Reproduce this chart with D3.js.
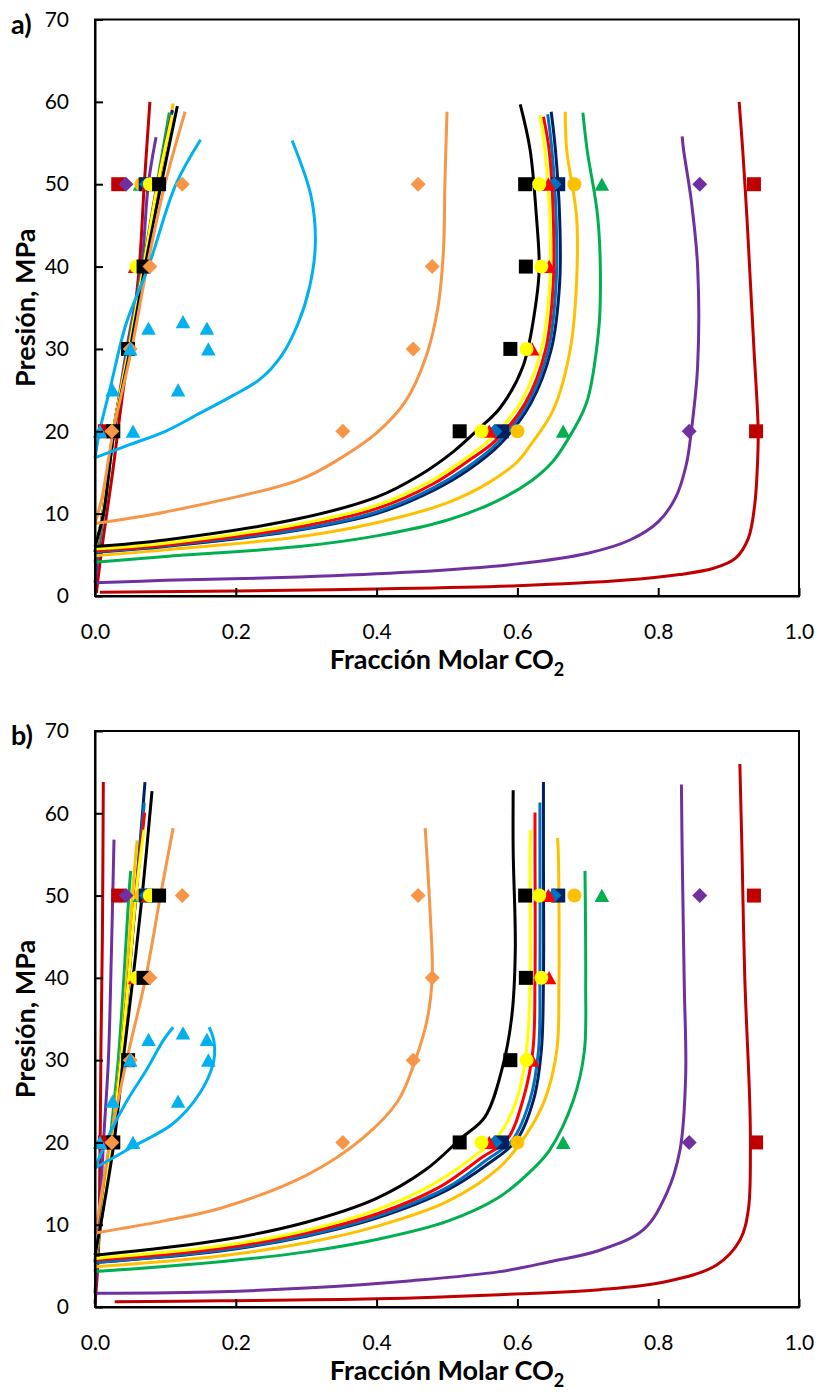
<!DOCTYPE html>
<html>
<head>
<meta charset="utf-8">
<script src="https://cdn.jsdelivr.net/npm/d3@7"></script>
<style>
  body { margin: 0; background: #fff; }
  text { font-family: Lato, "Open Sans", sans-serif; fill: #000; }
</style>
</head>
<body>
<script>
// ---- data: [fraccion molar CO2, presion MPa] ----
// each curve = [left branch, bottom/right branch]

// panel a
const a_darkred = [
  [[0.002,0.4],[0.01,6],[0.025,15],[0.04,25],[0.054,33],[0.063,40],[0.070,50],[0.078,60]],
  [[0.007,0.45],[0.2,0.6],[0.4,0.85],[0.6,1.25],[0.75,1.9],[0.83,2.6],[0.88,3.4],[0.91,4.6],[0.928,7],[0.937,11],[0.941,16],[0.942,20.2],[0.936,30],[0.931,38],[0.926,46],[0.920,54.2],[0.915,60]]
];
const a_purple = [
  [[0,1.6],[0.012,10],[0.027,20],[0.045,30],[0.066,40],[0.0757,50],[0.0867,55.7]],
  [[0,1.6],[0.1,1.9],[0.29,2.3],[0.45,2.9],[0.6,3.9],[0.7,5.2],[0.76,6.8],[0.8,9],[0.825,12],[0.84,16],[0.847,20],[0.856,27.9],[0.856,40],[0.847,48],[0.836,54.2],[0.834,55.8]]
];
const a_green = [
  [[0,4.1],[0.012,10],[0.027,20],[0.047,30],[0.068,40],[0.088,50],[0.1056,58.7]],
  [[0,4.1],[0.1,4.8],[0.29,6.0],[0.4,7.3],[0.5,9.2],[0.57,11.5],[0.62,14],[0.65,16.3],[0.668,18.5],[0.698,23.4],[0.715,31.9],[0.718,38],[0.714,46.1],[0.699,54.2],[0.693,58.7]]
];
const a_gold = [
  [[0,4.9],[0.011,10],[0.026,20],[0.048,30],[0.07,40],[0.09,50],[0.111,59.8]],
  [[0,4.9],[0.1,5.6],[0.29,7.2],[0.4,8.9],[0.5,11.3],[0.56,13.8],[0.6,16.3],[0.62,18.5],[0.651,22.6],[0.675,29.9],[0.684,38],[0.684,46.1],[0.67,54.2],[0.668,58.8]]
];
const a_navy = [
  [[0,5.3],[0.011,10],[0.026,20],[0.048,30],[0.069,40],[0.089,50],[0.110,59]],
  [[0,5.3],[0.1,6],[0.29,8],[0.4,10],[0.48,12.8],[0.53,15.3],[0.576,18.5],[0.619,23.4],[0.648,29.9],[0.66,38],[0.66,46],[0.654,54.2],[0.648,58.8]]
];
const a_blue = [
  [[0,5.35],[0.011,10],[0.026,20],[0.048,30],[0.069,40],[0.089,50],[0.109,58.6]],
  [[0,5.35],[0.1,6.1],[0.29,8.1],[0.4,10.2],[0.48,13.1],[0.53,15.7],[0.572,18.6],[0.615,23.4],[0.644,29.9],[0.655,38],[0.655,46],[0.649,54.2],[0.643,58.5]]
];
const a_red = [
  [[0,5.5],[0.011,10],[0.026,20],[0.048,30],[0.069,40],[0.089,50],[0.109,58.3]],
  [[0,5.5],[0.1,6.2],[0.29,8.4],[0.4,10.6],[0.48,13.6],[0.53,16.4],[0.568,18.8],[0.611,23.4],[0.640,29.9],[0.651,38],[0.651,46],[0.645,54.2],[0.637,58.2]]
];
const a_yellow = [
  [[0,5.7],[0.011,10],[0.026,20],[0.048,30],[0.069,40],[0.089,50],[0.11,58.4]],
  [[0,5.7],[0.1,6.4],[0.29,8.75],[0.4,11],[0.48,14.1],[0.53,16.9],[0.561,19],[0.604,23.4],[0.634,29.9],[0.646,38],[0.646,46.1],[0.639,54.2],[0.632,58.4]]
];
const a_black = [
  [[0,6],[0.012,10],[0.027,20],[0.05,30],[0.071,40],[0.094,50],[0.117,59.5]],
  [[0,6],[0.1,6.8],[0.29,9.4],[0.4,12],[0.46,14.6],[0.51,17.6],[0.545,20.3],[0.575,22.8],[0.608,27.9],[0.627,36],[0.631,40],[0.627,46.1],[0.618,54.2],[0.604,59.7]]
];
const a_orange = [
  [[0,8.8],[0.01,12],[0.026,20],[0.052,30],[0.074,40],[0.0994,50],[0.128,58.8]],
  [[0,8.8],[0.1,10.2],[0.29,14.1],[0.35,16.8],[0.4,19.8],[0.44,23.5],[0.47,29],[0.487,35],[0.495,42],[0.497,50],[0.5,58.8]]
];
const a_lightblue = [
  [[0,16.8],[0.007,20.2],[0.022,25.4],[0.044,33],[0.076,40],[0.115,50],[0.150,55.4]],
  [[0,16.8],[0.05,18.4],[0.1,20],[0.149,22.2],[0.195,24.3],[0.234,26.3],[0.265,29.2],[0.288,33],[0.305,37.6],[0.313,42.8],[0.307,48.5],[0.28,55.3]]
];

// panel b
const b_darkred = [
  [[0,0.4],[0.004,5],[0.006,10],[0.0085,32],[0.0105,45],[0.0118,63.8]],
  [[0.028,0.64],[0.178,0.75],[0.4,1.0],[0.575,1.5],[0.717,2.1],[0.812,3.1],[0.883,5.1],[0.916,8.1],[0.928,11.8],[0.931,19.1],[0.93,25],[0.923,40],[0.919,55.5],[0.916,66]]
];
const b_purple = [
  [[0,1.66],[0.006,10],[0.012,20],[0.019,30],[0.023,42],[0.027,56.8]],
  [[0,1.66],[0.178,1.86],[0.3,2.3],[0.45,3.2],[0.575,4.3],[0.646,5.5],[0.717,6.9],[0.779,9.4],[0.812,13.8],[0.831,19.1],[0.839,28],[0.837,39.3],[0.834,55.5],[0.833,63.5]]
];
const b_green = [
  [[0,4.3],[0.008,10],[0.021,20],[0.033,30],[0.041,40],[0.048,50],[0.0507,53]],
  [[0,4.3],[0.178,5.5],[0.3,6.7],[0.4,8.2],[0.5,10.4],[0.575,13.4],[0.62,16.6],[0.646,19.1],[0.679,25],[0.695,31],[0.697,39.3],[0.696,53]]
];
const b_gold = [
  [[0,4.9],[0.008,10],[0.023,20],[0.036,30],[0.045,40],[0.053,50],[0.0597,56.7]],
  [[0,4.9],[0.178,6.2],[0.3,7.8],[0.4,9.8],[0.5,12.8],[0.575,17],[0.613,21],[0.639,25.2],[0.656,31.2],[0.659,39.3],[0.658,55.5],[0.657,57]]
];
const b_navy = [
  [[0,5.4],[0.008,10],[0.024,20],[0.037,30],[0.048,40],[0.058,50],[0.071,63.8]],
  [[0,5.4],[0.178,6.8],[0.3,8.6],[0.4,10.8],[0.5,14.2],[0.56,17.5],[0.599,20.3],[0.623,25.2],[0.634,31.2],[0.637,40],[0.637,55.5],[0.637,63.8]]
];
const b_blue = [
  [[0,5.4],[0.008,10],[0.024,20],[0.037,30],[0.048,40],[0.058,50],[0.070,61.3]],
  [[0,5.4],[0.178,6.9],[0.3,8.7],[0.4,11],[0.5,14.5],[0.555,17.8],[0.593,20.3],[0.618,25.2],[0.63,31.2],[0.632,40],[0.632,55.5],[0.632,61.3]]
];
const b_red = [
  [[0,5.7],[0.008,10],[0.024,20],[0.037,30],[0.048,40],[0.058,50],[0.0706,60.1]],
  [[0,5.7],[0.178,7.1],[0.3,9],[0.4,11.3],[0.49,14.6],[0.55,18.2],[0.585,20.3],[0.608,25.2],[0.622,31.2],[0.625,40],[0.625,55.5],[0.625,60.1]]
];
const b_yellow = [
  [[0,5.9],[0.008,10],[0.024,20],[0.037,30],[0.048,40],[0.058,50],[0.0696,58]],
  [[0,5.9],[0.178,7.4],[0.3,9.3],[0.4,11.8],[0.48,14.9],[0.54,18.4],[0.573,20.8],[0.599,25.2],[0.613,31.2],[0.618,39.3],[0.618,55.5],[0.619,58]]
];
const b_black = [
  [[0,6.3],[0.008,10],[0.027,20],[0.040,30],[0.054,40],[0.067,50],[0.081,62.7]],
  [[0,6.3],[0.178,8.1],[0.3,10.3],[0.4,13.2],[0.47,16.7],[0.52,20.5],[0.554,23.1],[0.579,29.2],[0.592,35.3],[0.597,43.4],[0.594,55.5],[0.594,62.8]]
];
const b_orange = [
  [[0,9],[0.008,13],[0.021,20],[0.045,30],[0.072,40],[0.093,50],[0.111,58.2]],
  [[0,9],[0.1,10.5],[0.178,12],[0.3,16],[0.38,20.5],[0.43,25],[0.455,30],[0.472,35],[0.479,40.2],[0.476,48],[0.469,58.2]]
];
const b_lightblue = [
  [[0,16.9],[0.021,21.1],[0.045,25],[0.073,28.8],[0.097,32.4],[0.111,34.0]],
  [[0,16.9],[0.054,19.5],[0.111,22.3],[0.149,26],[0.168,29.6],[0.170,31.5],[0.167,33],[0.162,34.0]]
];

// experimental points (same in both panels)
const m_darkred = [[0.014,20],[0.033,50],[0.936,50],[0.939,20]];
const m_purple = [[0.044,50],[0.859,50],[0.844,20]];
const m_green = [[0.064,50],[0.72,50],[0.665,20]];
const m_gold = [[0.066,50],[0.681,50],[0.600,20]];
const m_navy = [[0.072,50],[0.658,50],[0.578,20]];
const m_blue = [[0.073,50],[0.652,50],[0.568,20]];
const m_red = [[0.076,50],[0.057,40],[0.644,50],[0.645,40],[0.621,30],[0.560,20]];
const m_yellow = [[0.078,50],[0.059,40],[0.631,50],[0.634,40],[0.613,30],[0.549,20]];
const m_black = [[0.091,50],[0.069,40],[0.047,30],[0.026,20],[0.611,50],[0.612,40],[0.590,30],[0.518,20]];
const m_orange = [[0.124,50],[0.078,40],[0.05,30],[0.024,20],[0.459,50],[0.479,40],[0.452,30],[0.352,20]];
const m_lightblue = [[0.007,20],[0.054,20],[0.025,25],[0.118,25],[0.05,30],[0.161,30],[0.076,32.5],[0.159,32.5],[0.125,33.3]];

const xTicks = [0, 0.2, 0.4, 0.6, 0.8, 1.0];
const yTicks = [0, 10, 20, 30, 40, 50, 60, 70];

// ---- styles ----
const series = [
  { color: '#C00000', shape: 'square',   a: a_darkred,   b: b_darkred,   pts: m_darkred },
  { color: '#7030A0', shape: 'diamond',  a: a_purple,    b: b_purple,    pts: m_purple },
  { color: '#00B050', shape: 'triangle', a: a_green,     b: b_green,     pts: m_green },
  { color: '#FFC000', shape: 'circle',   a: a_gold,      b: b_gold,      pts: m_gold },
  { color: '#002060', shape: 'square',   a: a_navy,      b: b_navy,      pts: m_navy },
  { color: '#0070C0', shape: 'diamond',  a: a_blue,      b: b_blue,      pts: m_blue },
  { color: '#FF0000', shape: 'triangle', a: a_red,       b: b_red,       pts: m_red },
  { color: '#FFFF00', shape: 'circle',   a: a_yellow,    b: b_yellow,    pts: m_yellow },
  { color: '#000000', shape: 'square',   a: a_black,     b: b_black,     pts: m_black },
  { color: '#F79646', shape: 'diamond',  a: a_orange,    b: b_orange,    pts: m_orange },
  { color: '#00B0F0', shape: 'triangle', a: a_lightblue, b: b_lightblue, pts: m_lightblue }
];

const shapes = {
  square: 'M-7,-7h14v14h-14Z',
  diamond: 'M0,-7.5L7.5,0L0,7.5L-7.5,0Z',
  triangle: 'M0,-6.8L7.3,6.5L-7.3,6.5Z',
  circle: 'M7,0A7,7 0 1,1 -7,0A7,7 0 1,1 7,0Z'
};

const W = 818, H = 1393;
const svg = d3.select('body').append('svg').attr('width', W).attr('height', H);

const left = 95, right = 799;
const _x = d3.scaleLinear().domain([0, 1]).range([left, right]);

function drawPanel(key, top, bottom, tag) {
  const _y = d3.scaleLinear().domain([0, 70]).range([bottom, top]);
  const g = svg.append('g');

  const line = d3.line()
    .x(d => _x(d[0]))
    .y(d => _y(d[1]))
    .curve(d3.curveCatmullRom.alpha(0.5));

  series.forEach(s => {
    s[key].forEach(seg => {
      g.append('path').datum(seg)
        .attr('d', line)
        .attr('fill', 'none')
        .attr('stroke', s.color)
        .attr('stroke-width', 3)
        .attr('stroke-linejoin', 'round');
    });
  });

  series.forEach(s => {
    g.selectAll(null).data(s.pts).enter().append('path')
      .attr('d', shapes[s.shape])
      .attr('transform', d => 'translate(' + _x(d[0]) + ',' + _y(d[1]) + ')')
      .attr('fill', s.color);
  });

  // frame
  g.append('rect')
    .attr('x', left).attr('y', top)
    .attr('width', right - left).attr('height', bottom - top)
    .attr('fill', 'none').attr('stroke', '#000').attr('stroke-width', 2);

  // axes with inward ticks
  const xAxis = g.append('g').attr('transform', 'translate(0,' + bottom + ')')
    .call(d3.axisBottom(_x).tickValues(xTicks).tickSizeInner(-8).tickSizeOuter(0).tickPadding(28)
      .tickFormat(d3.format('.1f')));
  const yAxis = g.append('g').attr('transform', 'translate(' + left + ',0)')
    .call(d3.axisLeft(_y).tickValues(yTicks).tickSizeInner(-8).tickSizeOuter(0).tickPadding(26));

  [xAxis, yAxis].forEach(ax => {
    ax.select('.domain').attr('stroke', '#000').attr('stroke-width', 2);
    ax.selectAll('.tick line').attr('stroke', '#000').attr('stroke-width', 2);
    ax.selectAll('.tick text').attr('font-size', 21).attr('font-family', 'Lato, sans-serif').attr('fill', '#000');
  });

  // titles
  const xt = g.append('text')
    .attr('x', (left + right) / 2).attr('y', bottom + 73)
    .attr('text-anchor', 'middle')
    .attr('font-size', 27).attr('font-weight', 'bold');
  xt.append('tspan').text('Fracción Molar CO');
  xt.append('tspan').text('2').attr('font-size', 18).attr('dy', 7);

  g.append('text')
    .attr('transform', 'translate(35,' + ((top + bottom) / 2) + ') rotate(-90)')
    .attr('text-anchor', 'middle')
    .attr('font-size', 27).attr('font-weight', 'bold')
    .text('Presión, MPa');

  g.append('text')
    .attr('x', 11).attr('y', top + 14)
    .attr('font-size', 27).attr('font-weight', 'bold')
    .text(tag);
}

drawPanel('a', 19.5, 596, 'a)');
drawPanel('b', 731, 1307, 'b)');
</script>
</body>
</html>
